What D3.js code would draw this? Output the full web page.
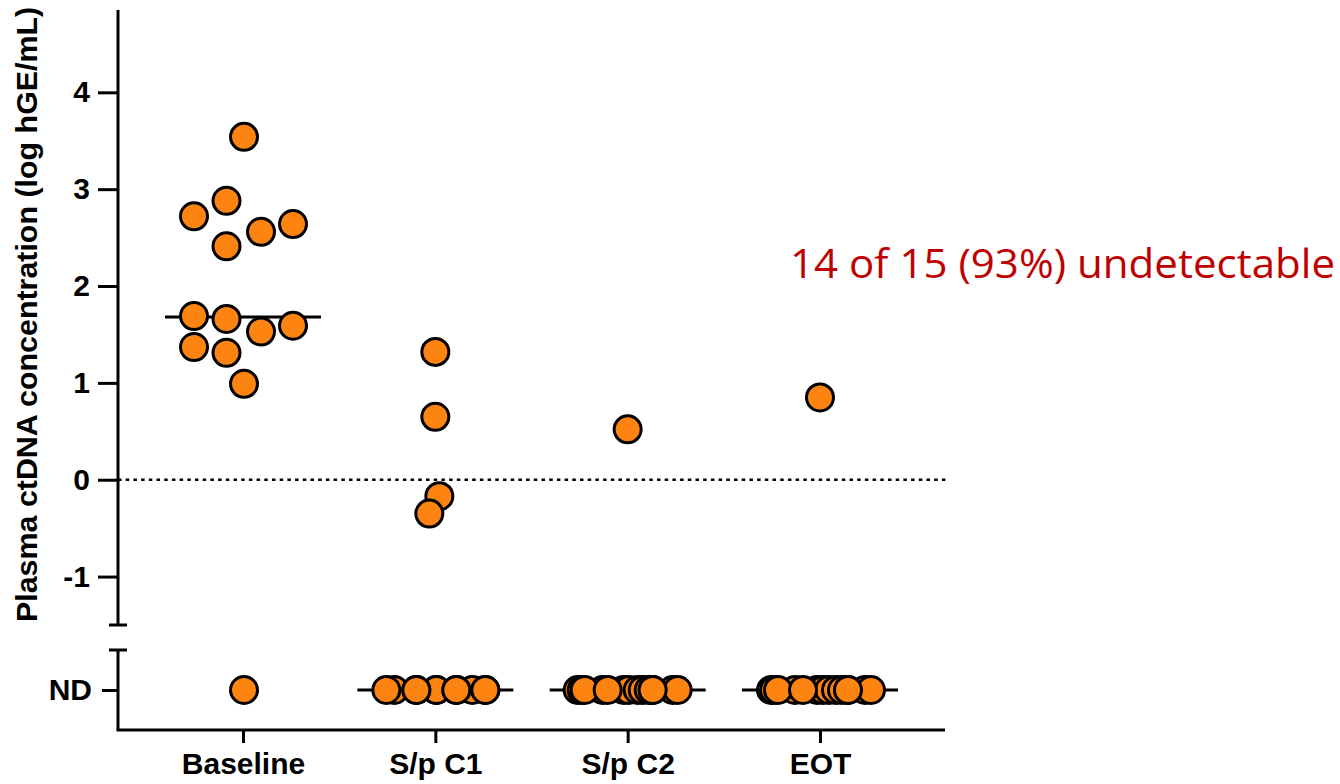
<!DOCTYPE html>
<html>
<head>
<meta charset="utf-8">
<script src="https://cdn.jsdelivr.net/npm/d3@7"></script>
<style>
	html, body { margin: 0; padding: 0; background: #fff; }
	svg { display: block; }
	.tick text { font-family: "Liberation Sans", Arial, sans-serif; font-weight: bold; font-size: 30px; fill: #000; }
</style>
</head>
<body>
<svg id="chart" width="1340" height="784"></svg>
<script>
'use strict';

// categories on the x axis
var categories = ['Baseline', 'S/p C1', 'S/p C2', 'EOT'];

// y ticks (log hGE/mL)
var yTicks = [-1, 0, 1, 2, 3, 4];

// values per group (null = ND), with beeswarm jitter (-1..1)
var baselineValues = [3.54, 2.88, 2.72, 2.56, 2.64, 2.41, 1.69, 1.66, 1.53, 1.59, 1.37, 1.31, 0.99, null];
var baselineJitter = [0.02, -0.33, -0.98, 0.36, 1.0, -0.33, -0.98, -0.33, 0.36, 1.0, -0.98, -0.33, 0.02, 0.02];

var c1Values = [1.32, 0.65, -0.17, -0.35, null, null, null, null, null, null, null, null, null, null, null];
var c1Jitter = [0.0, 0.0, 0.08, -0.12, -0.82, 0.02, 0.02, 0.74, -0.98, -0.38, -0.38, 0.42, 0.42, 1.0, 1.0];

var c2Values = [0.52, null, null, null, null, null, null, null, null, null, null, null, null, null, null];
var c2Jitter = [0.0, -1.0, -0.92, -0.5, -0.08, 0.02, 0.2, 0.3, 0.42, 0.9, -0.86, -0.4, 0.5, 1.0, 0.5];

var eotValues = [0.85, null, null, null, null, null, null, null, null, null, null, null, null, null, null];
var eotJitter = [0.0, -0.98, -0.92, -0.5, -0.06, 0.06, 0.18, 0.32, 0.44, 0.9, -0.84, -0.34, 0.56, 1.02, 0.56];

// medians per group (null = ND)
var medians = [1.68, null, null, null];

var annotation = '14 of 15 (93%) undetectable';

var groups = [
	{ name: categories[0], values: baselineValues, jitter: baselineJitter },
	{ name: categories[1], values: c1Values, jitter: c1Jitter },
	{ name: categories[2], values: c2Values, jitter: c2Jitter },
	{ name: categories[3], values: eotValues, jitter: eotJitter }
];

var svg = d3.select('#chart');

var axisX  = 118;
var axisY  = 730;
var orange = '#fd8410';

var x = d3.scalePoint()
	.domain(categories)
	.range([axisX, 945])
	.padding(0.65);

var y = d3.scaleLinear()
	.domain([-1.5, 4.85])
	.range([625, 10]);

var yNd = d3.scalePoint()
	.domain(['ND'])
	.range([650, axisY])
	.padding(0.5);

var jitter = d3.scaleLinear()
	.domain([-1, 1])
	.range([-50, 50]);

function posY(v) {
	return v === null ? yNd('ND') : y(v);
}

// upper y axis
var gy = svg.append('g')
	.attr('transform', 'translate(' + axisX + ',0)')
	.call(d3.axisLeft(y).tickValues(yTicks).tickFormat(d3.format('d')).tickSize(20).tickPadding(8));
gy.select('.domain').remove();
gy.selectAll('.tick line').attr('stroke', '#000').attr('stroke-width', 3);
gy.selectAll('.tick text').text(function (d) { return d < 0 ? '-' + Math.abs(d) : d; });

svg.append('line')
	.attr('x1', axisX).attr('x2', axisX)
	.attr('y1', y(4.85)).attr('y2', y(-1.5))
	.attr('stroke', '#000').attr('stroke-width', 3);
svg.append('line')
	.attr('x1', axisX - 9).attr('x2', axisX + 9)
	.attr('y1', y(-1.5)).attr('y2', y(-1.5))
	.attr('stroke', '#000').attr('stroke-width', 3);

// lower (ND) y axis
var gnd = svg.append('g')
	.attr('transform', 'translate(' + axisX + ',0)')
	.call(d3.axisLeft(yNd).tickSize(16).tickPadding(10));
gnd.select('.domain').remove();
gnd.selectAll('.tick line').attr('stroke', '#000').attr('stroke-width', 3);

svg.append('line')
	.attr('x1', axisX).attr('x2', axisX)
	.attr('y1', 650).attr('y2', axisY)
	.attr('stroke', '#000').attr('stroke-width', 3);
svg.append('line')
	.attr('x1', axisX - 9).attr('x2', axisX + 9)
	.attr('y1', 650).attr('y2', 650)
	.attr('stroke', '#000').attr('stroke-width', 3);

// x axis
var gx = svg.append('g')
	.attr('transform', 'translate(0,' + axisY + ')')
	.call(d3.axisBottom(x).tickSize(13).tickPadding(10));
gx.select('.domain').remove();
gx.selectAll('.tick line').attr('stroke', '#000').attr('stroke-width', 3);

svg.append('line')
	.attr('x1', axisX - 1.5).attr('x2', 945)
	.attr('y1', axisY).attr('y2', axisY)
	.attr('stroke', '#000').attr('stroke-width', 3);

// zero reference line
svg.append('line')
	.attr('x1', axisX).attr('x2', 948)
	.attr('y1', y(0)).attr('y2', y(0))
	.attr('stroke', '#000').attr('stroke-width', 2.5)
	.attr('stroke-dasharray', '3.5,4.2');

// axis title
svg.append('text')
	.attr('transform', 'translate(37,622) rotate(-90)')
	.attr('text-anchor', 'start')
	.style('font-family', '"Liberation Sans", Arial, sans-serif')
	.style('font-weight', 'bold')
	.style('font-size', '30.4px')
	.text('Plasma ctDNA concentration (log hGE/mL)');

// median lines
svg.append('g').selectAll('line')
	.data(medians)
	.enter().append('line')
		.attr('x1', function (d, i) { return x(categories[i]) - 78; })
		.attr('x2', function (d, i) { return x(categories[i]) + 78; })
		.attr('y1', function (d) { return posY(d); })
		.attr('y2', function (d) { return posY(d); })
		.attr('stroke', '#000').attr('stroke-width', 3);

// points
var points = [];
groups.forEach(function (g) {
	g.values.forEach(function (v, i) {
		points.push({ cat: g.name, value: v, jitter: g.jitter[i] });
	});
});

svg.append('g').selectAll('circle')
	.data(points)
	.enter().append('circle')
		.attr('cx', function (d) { return x(d.cat) + jitter(d.jitter); })
		.attr('cy', function (d) { return posY(d.value); })
		.attr('r', 13.5)
		.attr('fill', orange)
		.attr('stroke', '#000')
		.attr('stroke-width', 3);

// annotation
svg.append('text')
	.attr('x', 790)
	.attr('y', 278)
	.attr('textLength', 545)
	.attr('lengthAdjust', 'spacingAndGlyphs')
	.style('font-family', '"Open Sans", "Noto Sans", sans-serif')
	.style('font-size', '41px')
	.style('fill', '#c00000')
	.text(annotation);
</script>
</body>
</html>
